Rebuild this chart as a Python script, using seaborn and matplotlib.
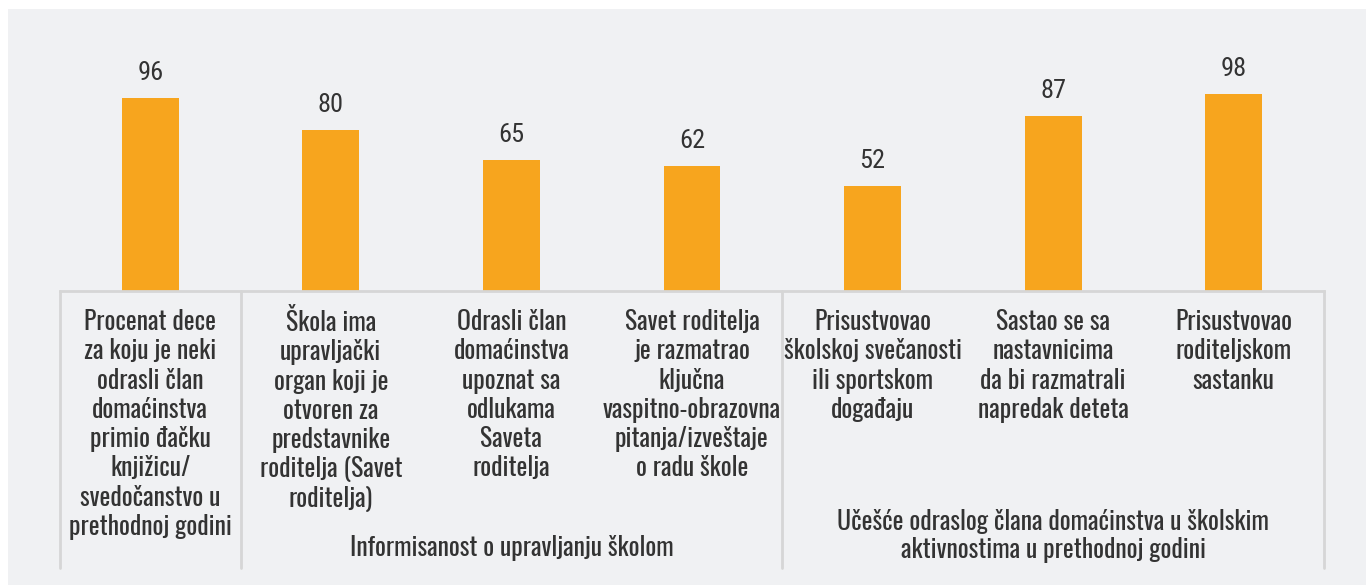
import numpy as np
import pandas as pd
import seaborn as sns
import matplotlib.pyplot as plt
from matplotlib.patches import Rectangle
from matplotlib.lines import Line2D

sns.set_style('white')
plt.rcParams['font.family'] = ['Oswald', 'DejaVu Sans']

categories = [
    'Procenat dece\nza koju je neki\nodrasli član\ndomaćinstva\nprimio đačku\nknjižicu/\nsvedočanstvo u\nprethodnoj godini',
    'Škola ima\nupravljački\norgan koji je\notvoren za\npredstavnike\nroditelja (Savet\nroditelja)',
    'Odrasli član\ndomaćinstva\nupoznat sa\nodlukama\nSaveta\nroditelja',
    'Savet roditelja\nje razmatrao\nključna\nvaspitno-obrazovna\npitanja/izveštaje\no radu škole',
    'Prisustvovao\nškolskoj svečanosti\nili sportskom\ndogađaju',
    'Sastao se sa\nnastavnicima\nda bi razmatrali\nnapredak deteta',
    'Prisustvovao\nroditeljskom\nsastanku',
]
values = [96, 80, 65, 62, 52, 87, 98]
groups = ['Informisanost o upravljanju školom',
          'Učešće odraslog člana domaćinstva u školskim\naktivnostima u prethodnoj godini']
group_spans = [(0.5, 3.5), (3.5, 6.5)]
separators = [-0.5, 0.5, 3.5, 6.5]

bar_color = '#F7A51E'
panel_color = '#F0F1F3'
line_color = '#D6D6D6'
text_color = '#333333'

W, H = 1366, 585
fig = plt.figure(figsize=(W / 100, H / 100), dpi=100)
fig.patch.set_facecolor('white')
fig.patches.append(Rectangle((8 / W, 0), 1 - 8 / W, 1 - 9 / H, transform=fig.transFigure,
                             facecolor=panel_color, edgecolor='none', zorder=-10))

# axis area: baseline at y=291px, value 100 at y=90px
ax = fig.add_axes([60 / W, (H - 291) / H, 1264 / W, 201 / H])
ax.set_facecolor('none')

df = pd.DataFrame({'cat': range(len(values)), 'val': values})
sns.barplot(data=df, x='cat', y='val', color=bar_color, width=0.315, saturation=1,
            linewidth=0, ax=ax, native_scale=True)
ax.set_xlim(-0.5, 6.5)
ax.set_ylim(0, 100)
ax.set_xticks([])
ax.set_yticks([])
ax.set_xlabel('')
ax.set_ylabel('')
for s in ['top', 'left', 'right']:
    ax.spines[s].set_visible(False)
ax.spines['bottom'].set_color(line_color)
ax.spines['bottom'].set_linewidth(2)

for i, v in enumerate(values):
    ax.annotate(str(v), (i, v), xytext=(0, 13), textcoords='offset points',
                ha='center', va='baseline', fontsize=19, color=text_color,
                family=['Roboto Condensed', 'DejaVu Sans'])

px = 1 / 201  # axes fraction per pixel (vertical)
trans = ax.get_xaxis_transform()
for i, c in enumerate(categories):
    ax.text(i, -18 * px, c, transform=trans, ha='center', va='top', fontsize=18.5,
            color=text_color, linespacing=1.155, clip_on=False)

for x in separators:
    ax.add_line(Line2D([x, x], [0, -277 * px], transform=trans, color=line_color,
                       lw=2, clip_on=False))

ax.text(np.mean(group_spans[0]), -257 * px, groups[0], transform=trans, ha='center',
        va='center', fontsize=18.5, color=text_color, clip_on=False)
ax.text(np.mean(group_spans[1]), -245 * px, groups[1], transform=trans, ha='center',
        va='center', fontsize=18.5, color=text_color, linespacing=1.12, clip_on=False)

fig.savefig('out.png', dpi=100, facecolor=fig.get_facecolor())
